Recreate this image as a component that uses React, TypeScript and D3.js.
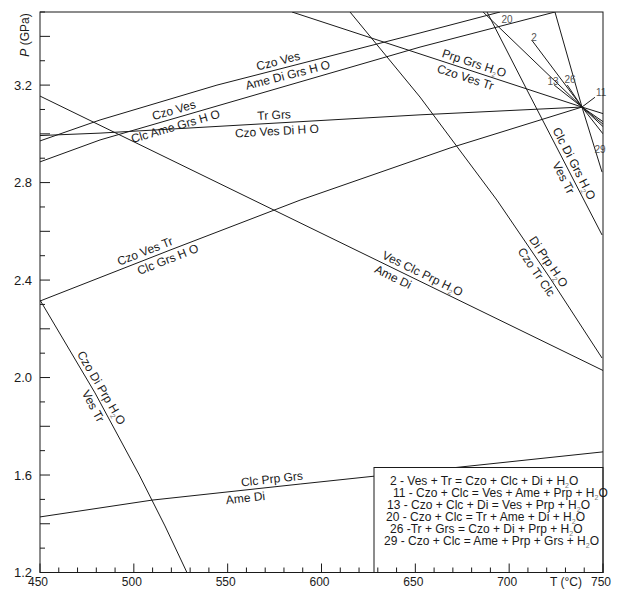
import React from "react";
import * as d3 from "d3";

type Pt = [number, number];

const W = 621;
const H = 589;
const left = 40, right = 603, top = 12, bottom = 572.5;

// axis ticks
const tempTicks = d3.range(450, 751, 10);
const tempLabels = [450, 500, 550, 600, 650, 700, 750];
const presTicks = d3.range(12, 36).map((d) => d / 10);
const presLabels = [1.2, 1.6, 2.0, 2.4, 2.8, 3.2];

// reaction curves, (T °C, P GPa)
const clcPrpGrs: Pt[] = [[450, 1.428], [509.7, 1.497], [588.6, 1.563], [750, 1.695]];
const czoDiPrp: Pt[] = [[450, 2.318], [479.3, 1.937], [502.9, 1.6], [516.6, 1.391], [528.3, 1.2]];
const czoVesTr: Pt[] = [[450, 2.314], [519.3, 2.523], [588.6, 2.728], [668.5, 2.942], [738.8, 3.11]];
const trGrs: Pt[] = [[450, 2.993], [482, 3.003], [652.5, 3.078], [738.8, 3.11]];
const czoVesAme: Pt[] = [[450, 2.971], [482, 3.057], [544.3, 3.2], [652.5, 3.414], [695.1, 3.5]];
const czoVesClc: Pt[] = [[450, 2.885], [482, 2.975], [652.5, 3.356], [724.4, 3.5]];
const vesClcPrp: Pt[] = [[450, 3.155], [750, 2.029]];
const prpGrs: Pt[] = [[584.3, 3.5], [738.8, 3.11], [750, 3.083]];
const diPrp: Pt[] = [[615.2, 3.5], [652.5, 3.151], [693.5, 2.728], [721.8, 2.408], [749.5, 2.08]];
const clcDiGrs: Pt[] = [[688.2, 3.5], [709.5, 3.18], [749.5, 2.585]];
const r29: Pt[] = [[724.4, 3.5], [738.8, 3.11], [749.5, 2.843]];
const r11: Pt[] = [[738.8, 3.11], [745.7, 3.15]];
const r20: Pt[] = [[686.1, 3.5], [738.8, 3.11], [750, 3.0]];
const r2: Pt[] = [[712, 3.385], [738.8, 3.11], [750, 3.03]];
const r13: Pt[] = [[724, 3.2], [738.8, 3.11], [750, 3.05]];
const r26: Pt[] = [[731, 3.2], [738.8, 3.11], [750, 3.04]];

const curves: { pts: Pt[]; above?: string; aboveAt?: number; below?: string; belowAt?: number }[] = [
  { pts: clcPrpGrs, above: "Clc Prp Grs", aboveAt: 574, below: "Ame Di", belowAt: 559 },
  { pts: czoDiPrp, above: "Czo Di Prp H_2O", aboveAt: 479, below: "Ves Tr", belowAt: 482 },
  { pts: czoVesTr, above: "Czo Ves Tr", aboveAt: 507.5, below: "Clc Grs H O", belowAt: 516.6 },
  { pts: trGrs, above: "Tr Grs", aboveAt: 575, below: "Czo Ves Di H O", belowAt: 576 },
  { pts: czoVesAme, above: "Czo Ves", aboveAt: 578, below: "Ame Di Grs H O", belowAt: 581 },
  { pts: czoVesClc, above: "Czo Ves", aboveAt: 522.5, below: "Clc Ame Grs H O", belowAt: 521 },
  { pts: vesClcPrp, above: "Ves Clc Prp H_2O", aboveAt: 652, below: "Ame Di", belowAt: 640 },
  { pts: prpGrs, above: "Prp Grs H_2O", aboveAt: 680, below: "Czo Ves Tr", belowAt: 678 },
  { pts: diPrp, above: "Di Prp H_2O", aboveAt: 717.5, below: "Czo Tr Clc", belowAt: 718 },
  { pts: clcDiGrs, above: "Clc Di Grs H_2O", aboveAt: 730.8, below: "Ves Tr", belowAt: 732.7 },
  { pts: r29 },
  { pts: r11 },
  { pts: r20 },
  { pts: r2 },
  { pts: r13 },
  { pts: r26 },
];

// reaction numbers
const numLabels = ["20", "2", "13", "26", "11", "29"];
const numAt: Pt[] = [[698.9, 3.471], [713.3, 3.397], [723.4, 3.213], [732.4, 3.221], [749, 3.168], [748.4, 2.934]];

const legendRows = [
  "2 - Ves + Tr = Czo + Clc + Di + H_2O",
  "11 - Czo + Clc = Ves + Ame + Prp + H_2O",
  "13 - Czo + Clc + Di = Ves + Prp + H_2O",
  "20 - Czo + Clc = Tr + Ame + Di + H_2O",
  "26 -Tr + Grs = Czo + Di + Prp + H_2O",
  "29 - Czo + Clc = Ame + Prp + Grs + H_2O",
];
const legendX = [390, 393, 387, 386, 390, 384];

const x = d3.scaleLinear().domain([450, 750]).range([left, right]);
const y = d3.scaleLinear().domain([1.2, 3.5]).range([bottom, top]);
const line = d3.line<Pt>().x((d) => x(d[0])).y((d) => y(d[1]));

const FONT = "'Liberation Sans', Arial, Helvetica, sans-serif";
const INK = "#1a1a1a";

function chem(s: string) {
  const parts = s.split("_2");
  const out: React.ReactNode[] = [parts[0]];
  for (let i = 1; i < parts.length; i++) {
    out.push(
      <tspan key={"s" + i} fontSize={7} dy={3} fill="#777">2</tspan>,
      <tspan key={"t" + i} dy={-3}>{parts[i]}</tspan>
    );
  }
  return out;
}

function placeAt(pts: Pt[], T: number) {
  const px = pts.map((p) => [x(p[0]), y(p[1])]);
  let i = 0;
  while (i < px.length - 2 && x(T) > px[i + 1][0]) i++;
  const [x1, y1] = px[i];
  const [x2, y2] = px[i + 1];
  const t = (x(T) - x1) / (x2 - x1);
  return {
    cx: x1 + t * (x2 - x1),
    cy: y1 + t * (y2 - y1),
    deg: (Math.atan2(y2 - y1, x2 - x1) * 180) / Math.PI,
  };
}

function CurveLabel({ pts, T, text, side }: { pts: Pt[]; T: number; text: string; side: "above" | "below" }) {
  const { cx, cy, deg } = placeAt(pts, T);
  return (
    <g transform={`translate(${cx},${cy}) rotate(${deg})`}>
      <text y={side === "above" ? -4 : 12} textAnchor="middle" fontSize={12} fill={INK}>
        {chem(text)}
      </text>
    </g>
  );
}

export default function App() {
  return (
    <svg
      width={W}
      height={H}
      style={{ position: "absolute", left: 0, top: 0, background: "#fff" }}
      fontFamily={FONT}
    >
      <defs>
        <clipPath id="plot">
          <rect x={left} y={top} width={right - left} height={bottom - top} />
        </clipPath>
      </defs>

      <g clipPath="url(#plot)">
        {curves.map((c, i) => (
          <path key={i} d={line(c.pts) || ""} fill="none" stroke={INK} strokeWidth={1} />
        ))}
      </g>

      {curves.map((c, i) => (
        <g key={"l" + i}>
          {c.above && <CurveLabel pts={c.pts} T={c.aboveAt!} text={c.above} side="above" />}
          {c.below && <CurveLabel pts={c.pts} T={c.belowAt!} text={c.below} side="below" />}
        </g>
      ))}

      {numLabels.map((n, i) => (
        <text
          key={"n" + i}
          x={x(numAt[i][0])}
          y={y(numAt[i][1])}
          dy="0.35em"
          textAnchor="middle"
          fontSize={10}
          fill="#555"
        >
          {n}
        </text>
      ))}

      {/* legend */}
      <rect x={374} y={467.5} width={right - 374} height={bottom - 467.5} fill="#fff" stroke={INK} strokeWidth={1} />
      {legendRows.map((r, i) => (
        <text key={"g" + i} x={legendX[i]} y={485 + i * 12} fontSize={12} fill={INK}>
          {chem(r)}
        </text>
      ))}

      {/* frame */}
      <rect x={left} y={top} width={right - left} height={bottom - top} fill="none" stroke={INK} strokeWidth={1} />

      {/* x ticks */}
      {tempTicks.map((t) => (
        <line
          key={"xt" + t}
          x1={x(t)}
          x2={x(t)}
          y1={bottom}
          y2={bottom - (t % 50 === 0 ? 9 : 5)}
          stroke={INK}
        />
      ))}
      {tempLabels.map((t) => (
        <text key={"xl" + t} x={x(t) - 2} y={586} textAnchor="middle" fontSize={12} fill={INK}>
          {t}
        </text>
      ))}
      <text x={566} y={586} textAnchor="middle" fontSize={12} fill={INK}>
        T (°C)
      </text>

      {/* y ticks */}
      {presTicks.map((p, i) => (
        <line
          key={"yt" + i}
          x1={left}
          x2={left + (i % 2 === 0 ? 10 : 5)}
          y1={y(p)}
          y2={y(p)}
          stroke={INK}
        />
      ))}
      {presLabels.map((p) => (
        <text key={"yl" + p} x={32} y={y(p)} dy="0.36em" textAnchor="end" fontSize={13} fill={INK}>
          {p.toFixed(1)}
        </text>
      ))}
      <text transform="translate(29,35) rotate(-90)" textAnchor="middle" fontSize={12} fill={INK}>
        <tspan fontStyle="italic">P</tspan> (GPa)
      </text>
    </svg>
  );
}
